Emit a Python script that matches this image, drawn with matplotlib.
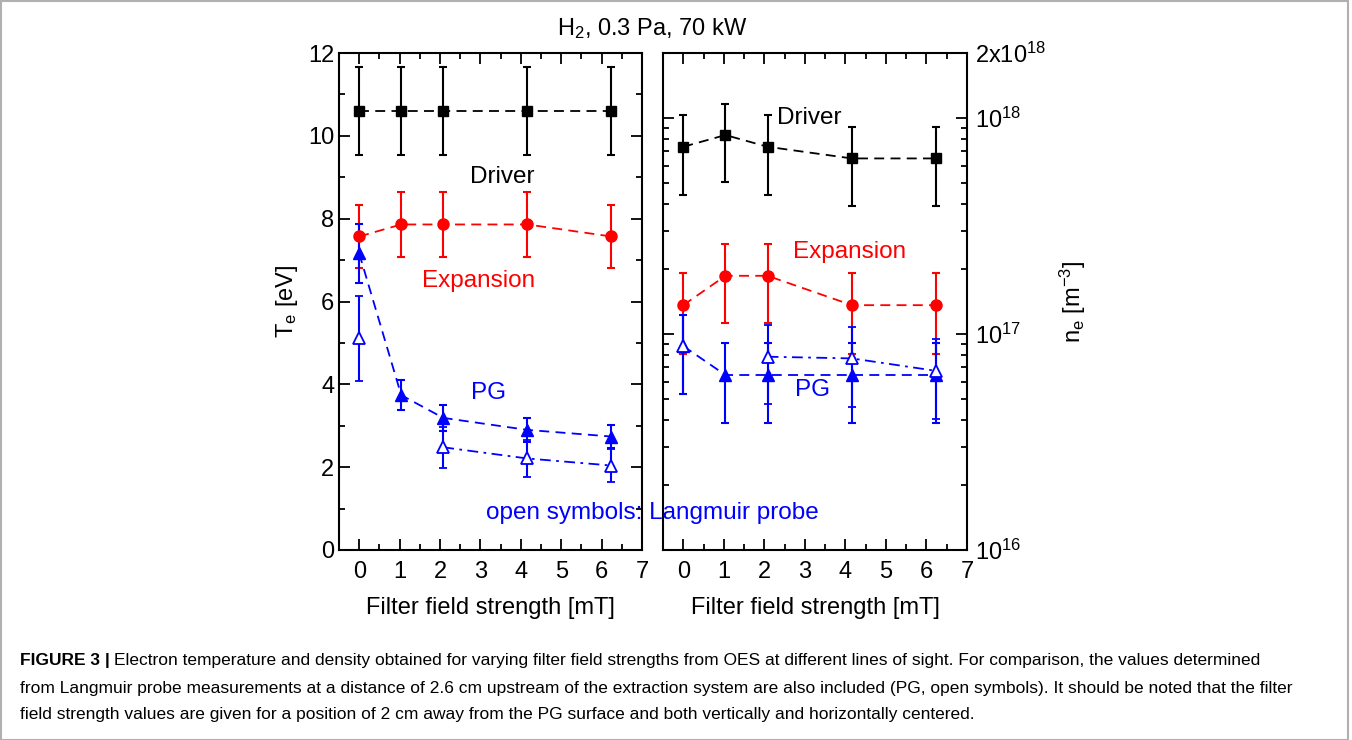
import numpy as np
import matplotlib
matplotlib.use('Agg')
import matplotlib.pyplot as plt
from matplotlib.ticker import MultipleLocator, LogLocator, NullFormatter
from matplotlib.patches import Rectangle

plt.rcParams['font.family'] = ['Liberation Sans', 'DejaVu Sans']
plt.rcParams['mathtext.fontset'] = 'custom'
plt.rcParams['mathtext.rm'] = 'Liberation Sans'
plt.rcParams['mathtext.it'] = 'Liberation Sans'

# filter field positions [mT]
field = [0, 1.04, 2.08, 4.16, 6.24]

# left panel: electron temperature [eV]
te_driver = [10.6, 10.6, 10.6, 10.6, 10.6]
te_driver_err = [1.06, 1.06, 1.06, 1.06, 1.06]
te_exp = [7.57, 7.86, 7.86, 7.86, 7.57]
te_exp_err = [0.76, 0.79, 0.79, 0.79, 0.76]
te_pg = [7.16, 3.74, 3.19, 2.90, 2.74]
te_pg_err = [0.72, 0.37, 0.32, 0.29, 0.27]
te_lp = [5.11, np.nan, 2.48, 2.21, 2.04]
te_lp_err = [1.02, np.nan, 0.50, 0.44, 0.41]

# right panel: electron density [m^-3]
ne_driver = [7.36e17, 8.34e17, 7.36e17, 6.5e17, 6.5e17]
ne_driver_err = [2.95e17, 3.3e17, 2.95e17, 2.6e17, 2.6e17]
ne_exp = [1.36e17, 1.86e17, 1.86e17, 1.36e17, 1.36e17]
ne_exp_err = [5.5e16, 7.4e16, 7.4e16, 5.5e16, 5.5e16]
ne_pg = [8.79e16, 6.46e16, 6.46e16, 6.46e16, 6.46e16]
ne_pg_err = [3.5e16, 2.6e16, 2.6e16, 2.6e16, 2.6e16]
ne_lp = [8.79e16, np.nan, 7.85e16, 7.71e16, 6.75e16]
ne_lp_err = [3.5e16, np.nan, 3.1e16, 3.1e16, 2.7e16]

caption = [
    "Electron temperature and density obtained for varying filter field strengths from OES at different lines of sight. For comparison, the values determined",
    "from Langmuir probe measurements at a distance of 2.6 cm upstream of the extraction system are also included (PG, open symbols). It should be noted that the filter",
    "field strength values are given for a position of 2 cm away from the PG surface and both vertically and horizontally centered.",
]

W, H = 1352, 740
fig = plt.figure(figsize=(W / 100, H / 100), dpi=100)


def px_axes(x0, x1, y0, y1):
    return fig.add_axes([x0 / W, 1 - y1 / H, (x1 - x0) / W, (y1 - y0) / H])


ax1 = px_axes(339, 642, 53, 550)
ax2 = px_axes(663, 967, 53, 550)

eb = dict(capsize=3, elinewidth=1.5, capthick=1.5, lw=1.3)
dash = (0, (5.5, 3.5))
dashdot = (0, (6, 3, 1.5, 3))


def draw(ax, d, de, e, ee, p, pe, l, le):
    ax.errorbar(field, d, yerr=de, color='black', marker='s', ms=7, ls=dash, **eb)
    ax.errorbar(field, e, yerr=ee, color='#ff0000', marker='o', ms=8, ls=dash, **eb)
    ax.errorbar(field, p, yerr=pe, color='#0000ff', marker='^', ms=8.5, ls=dash, **eb)
    ax.errorbar(field, l, yerr=le, color='#0000ff', marker='^', ms=8.5, mfc='white',
                mew=1.3, ls=dashdot, **eb)
    ax.set_xlim(-0.5, 7)
    ax.xaxis.set_major_locator(MultipleLocator(1))
    ax.xaxis.set_minor_locator(MultipleLocator(0.5))
    ax.tick_params(which='both', direction='in', top=True, right=True, width=1.3,
                   labelsize=17)
    ax.tick_params(which='major', length=8)
    ax.tick_params(which='minor', length=4)
    ax.tick_params(axis='x', pad=8)
    for s in ax.spines.values():
        s.set_linewidth(1.5)
    ax.set_xlabel('Filter field strength [mT]', fontsize=17, labelpad=10)


draw(ax1, te_driver, te_driver_err, te_exp, te_exp_err, te_pg, te_pg_err, te_lp, te_lp_err)
ax1.set_ylim(0, 12)
ax1.yaxis.set_major_locator(MultipleLocator(2))
ax1.yaxis.set_minor_locator(MultipleLocator(1))
ax1.set_ylabel('T$_\\mathregular{e}$ [eV]', fontsize=17, labelpad=6)

draw(ax2, ne_driver, ne_driver_err, ne_exp, ne_exp_err, ne_pg, ne_pg_err, ne_lp, ne_lp_err)
ax2.set_yscale('log')
ax2.set_ylim(1e16, 2e18)
ax2.set_yticks([1e16, 1e17, 1e18, 2e18])
ax2.set_yticklabels(['10$^{16}$', '10$^{17}$', '10$^{18}$', '2x10$^{18}$'])
ax2.yaxis.set_minor_locator(LogLocator(base=10, subs=np.arange(2, 10)))
ax2.yaxis.set_minor_formatter(NullFormatter())
ax2.tick_params(axis='y', labelleft=False, labelright=True, pad=6)
ax2.yaxis.set_label_position('right')
ax2.set_ylabel('n$_\\mathregular{e}$ [m$^{-3}$]', fontsize=17, labelpad=8)

# series labels
ax1.text(3.55, 9.0, 'Driver', color='black', fontsize=17.5, ha='center', va='center')
ax1.text(2.95, 6.5, 'Expansion', color='#ff0000', fontsize=17.5, ha='center', va='center')
ax1.text(3.2, 3.8, 'PG', color='#0000ff', fontsize=17.5, ha='center', va='center')
ax2.text(3.12, 1.0e18, 'Driver', color='black', fontsize=17.5, ha='center', va='center')
ax2.text(4.1, 2.4e17, 'Expansion', color='#ff0000', fontsize=17.5, ha='center', va='center')
ax2.text(3.2, 5.5e16, 'PG', color='#0000ff', fontsize=17.5, ha='center', va='center')
fig.text(652 / W, 1 - 513 / H, 'open symbols: Langmuir probe', color='#0000ff',
         fontsize=17.5, ha='center', va='center')
fig.text(652 / W, 1 - 29 / H, 'H$_\\mathregular{2}$, 0.3 Pa, 70 kW', fontsize=17,
         ha='center', va='center')

# caption
cap_font = ['Liberation Sans', 'DejaVu Sans']
y0 = 660
bold = fig.text(20 / W, 1 - y0 / H, 'FIGURE 3 |', fontsize=12.5, fontweight='bold',
                family=cap_font, va='center')
bb = bold.get_window_extent(renderer=fig.canvas.get_renderer())
fig.text((bb.x1 + 4) / W, 1 - y0 / H, caption[0], fontsize=12.5, family=cap_font, va='center')
fig.text(20 / W, 1 - (y0 + 28) / H, caption[1], fontsize=12.5, family=cap_font, va='center')
fig.text(20 / W, 1 - (y0 + 55) / H, caption[2], fontsize=12.5, family=cap_font, va='center')

fig.patches.append(Rectangle((1 / W, 0.5 / H), 1347 / W, 738.5 / H, transform=fig.transFigure,
                             fill=False, edgecolor='#b0b0b0', lw=1.5))

fig.savefig('out.png', dpi=100)
